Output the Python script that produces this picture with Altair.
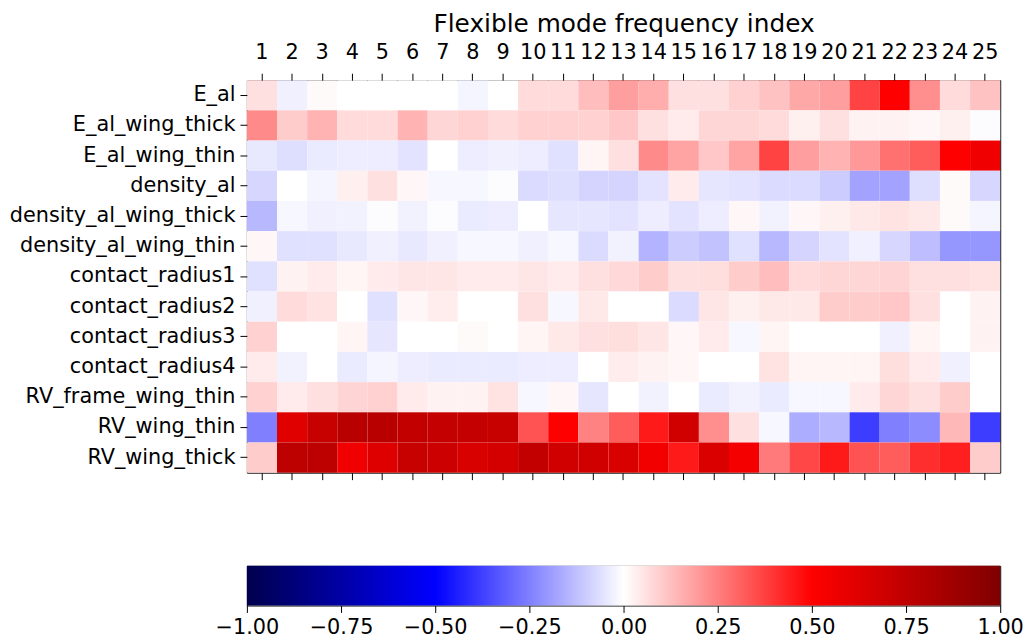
import altair as alt
import pandas as pd

modes = list(range(1, 26))
rows = [
    "E_al", "E_al_wing_thick", "E_al_wing_thin", "density_al",
    "density_al_wing_thick", "density_al_wing_thin", "contact_radius1",
    "contact_radius2", "contact_radius3", "contact_radius4",
    "RV_frame_wing_thin", "RV_wing_thin", "RV_wing_thick",
]

E_al = [0.06, -0.03, 0.01, 0.0, 0.0, 0.0, 0.0, -0.02, 0.0, 0.07, 0.07, 0.13, 0.19,
        0.16, 0.06, 0.06, 0.09, 0.12, 0.17, 0.19, 0.37, 0.50, 0.22, 0.07, 0.12]
E_al_wing_thick = [0.23, 0.10, 0.15, 0.07, 0.07, 0.15, 0.08, 0.09, 0.07, 0.09, 0.09, 0.09, 0.11,
                   0.06, 0.04, 0.08, 0.08, 0.07, 0.03, 0.06, 0.025, 0.025, 0.015, 0.03, -0.005]
E_al_wing_thin = [-0.045, -0.065, -0.04, -0.035, -0.035, -0.055, 0.0, -0.035, -0.03, -0.035, -0.06, 0.02, 0.06,
                  0.23, 0.18, 0.11, 0.18, 0.37, 0.19, 0.15, 0.20, 0.28, 0.32, 0.50, 0.56]
density_al = [-0.08, 0.0, -0.02, 0.03, 0.06, 0.015, -0.015, -0.015, -0.005, -0.07, -0.065, -0.085, -0.085,
              -0.055, 0.04, -0.05, -0.055, -0.07, -0.07, -0.10, -0.18, -0.18, -0.065, 0.01, -0.08]
density_al_wing_thick = [-0.14, -0.015, -0.03, -0.025, -0.005, -0.025, -0.005, -0.04, -0.035, 0.0, -0.05, -0.05, -0.055,
                         -0.035, -0.055, -0.035, 0.015, -0.025, 0.015, 0.03, 0.045, 0.055, 0.045, 0.01, -0.02]
density_al_wing_thin = [0.015, -0.06, -0.06, -0.045, -0.03, -0.045, -0.03, -0.015, -0.015, -0.03, -0.015, -0.07, -0.025,
                        -0.15, -0.10, -0.12, -0.06, -0.14, -0.085, -0.055, -0.03, -0.08, -0.13, -0.205, -0.205]
contact_radius1 = [-0.06, 0.025, 0.04, 0.02, 0.04, 0.05, 0.05, 0.04, 0.04, 0.05, 0.04, 0.06, 0.075,
                   0.10, 0.06, 0.065, 0.10, 0.13, 0.07, 0.08, 0.08, 0.085, 0.06, 0.06, 0.055]
contact_radius2 = [-0.03, 0.07, 0.055, 0.0, -0.06, 0.015, 0.035, 0.0, 0.0, 0.06, -0.015, 0.045, 0.0,
                   0.0, -0.07, 0.05, 0.03, 0.045, 0.045, 0.10, 0.10, 0.11, 0.06, 0.0, 0.025]
contact_radius3 = [0.09, 0.0, 0.0, 0.02, -0.05, 0.0, 0.0, 0.01, 0.0, 0.02, 0.045, 0.06, 0.065,
                   0.05, 0.015, 0.04, -0.015, 0.02, 0.0, 0.0, 0.0, -0.03, 0.02, 0.0, 0.025]
contact_radius4 = [0.04, -0.025, 0.0, -0.04, -0.02, -0.035, -0.04, -0.04, -0.04, -0.035, -0.035, 0.0, 0.035,
                   0.025, 0.015, 0.0, 0.0, 0.055, 0.02, 0.02, 0.02, 0.065, 0.04, -0.03, 0.0]
RV_frame_wing_thin = [0.09, 0.04, 0.06, 0.085, 0.09, 0.04, 0.025, 0.025, 0.055, -0.015, 0.015, -0.05, 0.0,
                      -0.025, 0.0, -0.04, -0.025, -0.04, -0.015, -0.015, 0.04, 0.08, 0.06, 0.10, 0.0]
RV_wing_thin = [-0.25, 0.62, 0.72, 0.78, 0.78, 0.74, 0.73, 0.73, 0.72, 0.34, 0.50, 0.245, 0.32,
                0.45, 0.68, 0.22, 0.06, -0.015, -0.16, -0.14, -0.38, -0.25, -0.225, 0.14, -0.38]
RV_wing_thick = [0.10, 0.76, 0.76, 0.56, 0.63, 0.72, 0.70, 0.65, 0.67, 0.74, 0.68, 0.68, 0.65,
                 0.55, 0.45, 0.64, 0.54, 0.26, 0.36, 0.45, 0.34, 0.32, 0.41, 0.44, 0.10]

series = [E_al, E_al_wing_thick, E_al_wing_thin, density_al, density_al_wing_thick,
          density_al_wing_thin, contact_radius1, contact_radius2, contact_radius3,
          contact_radius4, RV_frame_wing_thin, RV_wing_thin, RV_wing_thick]

cmap_domain = [-1.0, -0.5, 0.0, 0.5, 1.0]
cmap_colors = ["#00004d", "#0000ff", "#ffffff", "#ff0000", "#800000"]
cbar_ticks = [-1.0, -0.75, -0.5, -0.25, 0.0, 0.25, 0.5, 0.75, 1.0]

records = []
for name, vals in zip(rows, series):
    for m, v in zip(modes, vals):
        records.append({"param": name, "mode": m, "value": v})
df = pd.DataFrame(records)

FS = 21
x_top = alt.X("mode:O", sort=modes, scale=alt.Scale(paddingInner=0, paddingOuter=0),
              axis=alt.Axis(orient="top", labelAngle=0, labelFontSize=FS, tickSize=7,
                            labelPadding=11, title="Flexible mode frequency index",
                            titleFontSize=25, titleFontWeight="normal", titlePadding=5,
                            domain=False, tickColor="black", labelColor="black",
                            titleColor="black", labelLimit=0))
x_bot = alt.X("mode:O", sort=modes,
              axis=alt.Axis(orient="bottom", labels=False, title=None, tickSize=7,
                            domain=False, tickColor="black"))

heat_main = alt.Chart(df).mark_rect().encode(
    x=x_top,
    y=alt.Y("param:N", sort=rows, scale=alt.Scale(paddingInner=0, paddingOuter=0),
            axis=alt.Axis(title=None, labelFontSize=FS, tickSize=7, labelPadding=5,
                          domain=False, tickColor="black", labelColor="black",
                          labelLimit=0)),
    color=alt.Color("value:Q", legend=None,
                    scale=alt.Scale(domain=cmap_domain, range=cmap_colors, interpolate="rgb")),
)
heat_ticks = alt.Chart(df).mark_rect(opacity=0).encode(x=x_bot)

heat = alt.layer(heat_main, heat_ticks).resolve_axis(x="independent").properties(
    width=760, height=396)

cbar_df = pd.DataFrame({"lo": [cmap_domain[0]], "hi": [cmap_domain[-1]]})
stops = [alt.GradientStop(color=c, offset=(d - cmap_domain[0]) / (cmap_domain[-1] - cmap_domain[0]))
         for d, c in zip(cmap_domain, cmap_colors)]
cbar = alt.Chart(cbar_df).mark_rect(
    color=alt.Gradient(gradient="linear", stops=stops, x1=0, x2=1, y1=0, y2=0)
).encode(
    x=alt.X("lo:Q", scale=alt.Scale(domain=[cmap_domain[0], cmap_domain[-1]], nice=False, zero=False),
            axis=alt.Axis(orient="bottom", values=cbar_ticks, format=".2f", title=None,
                          labelFontSize=FS, tickSize=7, labelPadding=4, grid=False,
                          domain=False, tickColor="black", labelColor="black",
                          labelFlush=False)),
    x2="hi",
).properties(width=760, height=40)

chart = alt.vconcat(heat, cbar, spacing=85).properties(padding=0).configure(
    font="DejaVu Sans"
).configure_view(stroke="black", strokeWidth=1)

chart.save("out.html", embed_options={"renderer": "svg", "actions": False})
